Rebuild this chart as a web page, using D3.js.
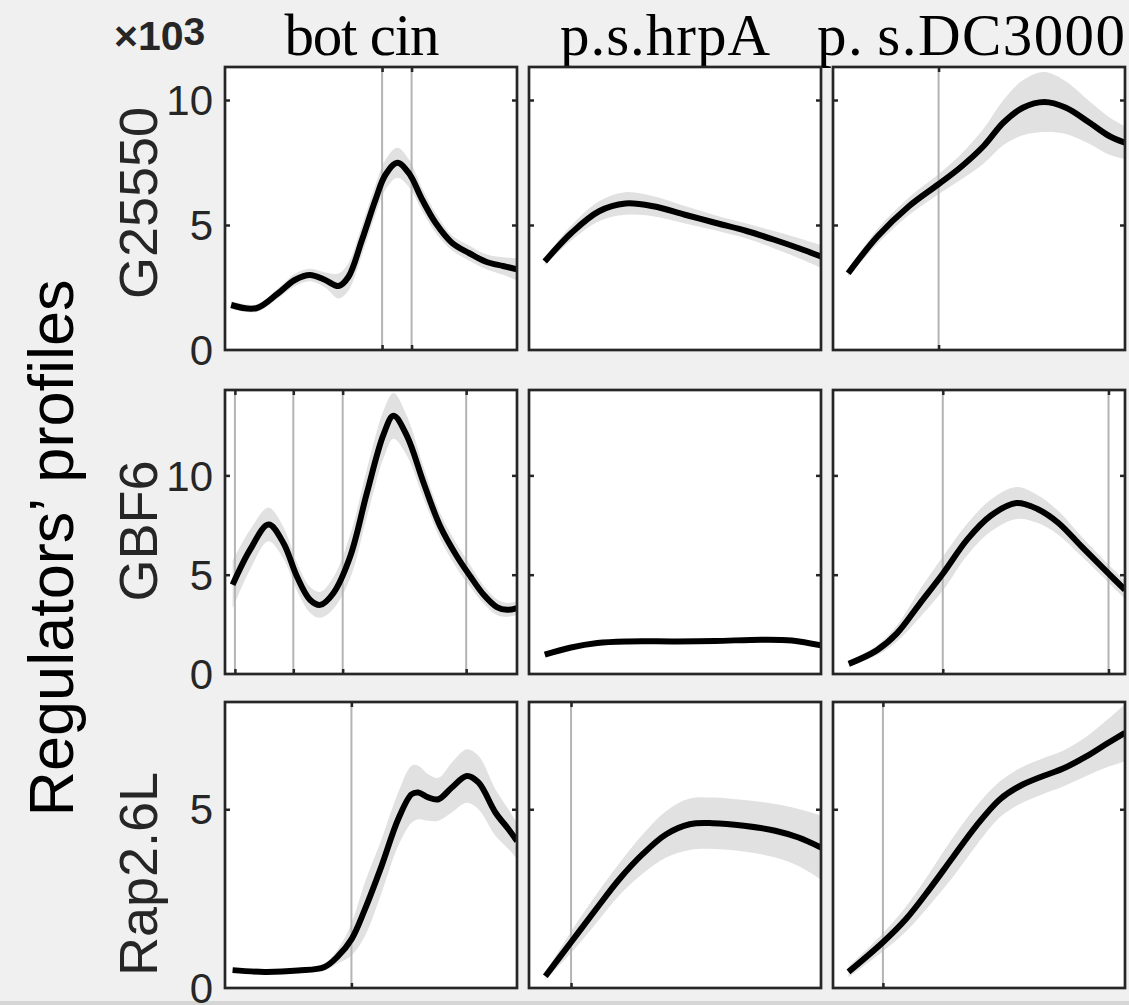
<!DOCTYPE html>
<html>
<head>
<meta charset="utf-8">
<script src="https://cdn.jsdelivr.net/npm/d3@7"></script>
<style>
  html, body { margin: 0; padding: 0; background: #f0f0f0; }
  svg { display: block; }
</style>
</head>
<body>
<svg id="chart" width="1129" height="1005"></svg>
<script>
// ---------------- DATA ----------------
const conditions = ["bot cin", "p.s.hrpA", "p.\u2009s.DC3000"];
const regulators = ["G25550", "GBF6", "Rap2.6L"];
const yMaxByRow = [11.32, 14.3, 8.0];
const yTicksByRow = [[0, 5, 10], [0, 5, 10], [0, 5]];
const yTickLabelsByRow = [["0", "5", "10"], ["0", "5", "10"], ["0", "5"]];
const scaleLabel = "×10";
const scaleExp = "3";
const yTitle = "Regulators’ profiles";

// G25550
const G25550_botcin_t    = [0.021,0.107,0.182,0.239,0.291,0.343,0.389,0.423,0.469,0.515,0.549,0.59,0.63,0.676,0.722,0.779,0.837,0.894,0.952,1.0];
const G25550_botcin_mean = [1.8,1.67,2.27,2.8,3.0,2.8,2.56,2.93,4.4,6.0,7.0,7.49,7.07,6.0,5.07,4.27,3.87,3.53,3.36,3.23];
const G25550_botcin_sd   = [0.15,0.15,0.2,0.25,0.25,0.3,0.5,0.55,0.6,0.6,0.6,0.6,0.55,0.45,0.4,0.3,0.3,0.3,0.35,0.45];
const G25550_botcin_grid = [0.538, 0.639];

const G25550_hrpA_t    = [0.054,0.145,0.24,0.33,0.426,0.534,0.64,0.748,0.84,0.922,1.0];
const G25550_hrpA_mean = [3.54,4.68,5.55,5.86,5.75,5.41,5.08,4.75,4.41,4.08,3.74];
const G25550_hrpA_sd   = [0.15,0.3,0.4,0.45,0.4,0.35,0.3,0.3,0.35,0.4,0.45];
const G25550_hrpA_grid = [];

const G25550_DC3000_t    = [0.052,0.153,0.26,0.36,0.435,0.516,0.583,0.65,0.724,0.798,0.879,0.946,1.0];
const G25550_DC3000_mean = [3.07,4.55,5.75,6.62,7.29,8.16,9.09,9.69,9.92,9.69,9.09,8.56,8.29];
const G25550_DC3000_sd   = [0.15,0.3,0.35,0.4,0.5,0.7,0.9,1.1,1.2,1.05,0.85,0.75,0.65];
const G25550_DC3000_grid = [0.3616];

// GBF6
const GBF6_botcin_t    = [0.026,0.086,0.149,0.2,0.246,0.291,0.326,0.371,0.429,0.486,0.543,0.577,0.623,0.68,0.737,0.794,0.84,0.886,0.931,0.966,1.0];
const GBF6_botcin_mean = [4.49,6.26,7.53,6.6,4.92,3.74,3.48,4.07,5.93,9.12,12.07,13.0,11.99,9.63,7.44,5.93,4.92,3.99,3.37,3.23,3.32];
const GBF6_botcin_sd   = [1.2,1.0,0.85,0.8,0.7,0.65,0.65,0.8,1.1,1.2,1.2,1.15,1.0,0.8,0.65,0.6,0.55,0.45,0.4,0.35,0.35];
const GBF6_botcin_grid = [0.034, 0.234, 0.403, 0.826];

const GBF6_hrpA_t    = [0.054,0.14,0.234,0.34,0.5,0.636,0.797,0.9,1.0];
const GBF6_hrpA_mean = [0.97,1.32,1.56,1.64,1.64,1.66,1.73,1.69,1.44];
const GBF6_hrpA_sd   = [0.05,0.06,0.08,0.08,0.08,0.1,0.12,0.12,0.12];
const GBF6_hrpA_grid = [];

const GBF6_DC3000_t    = [0.054,0.15,0.218,0.298,0.376,0.46,0.54,0.628,0.70,0.77,0.85,0.944,1.0];
const GBF6_DC3000_mean = [0.51,1.19,2.03,3.56,5.05,6.78,7.97,8.61,8.31,7.63,6.44,5.05,4.24];
const GBF6_DC3000_sd   = [0.15,0.25,0.4,0.7,0.85,0.8,0.8,0.8,0.7,0.6,0.5,0.45,0.45];
const GBF6_DC3000_grid = [0.376, 0.9435];

// Rap2.6L
const Rap26L_botcin_t    = [0.026,0.135,0.25,0.341,0.387,0.433,0.479,0.536,0.593,0.639,0.662,0.696,0.731,0.777,0.828,0.868,0.926,0.971,1.0];
const Rap26L_botcin_mean = [0.5,0.45,0.49,0.59,0.89,1.36,2.2,3.41,4.72,5.42,5.47,5.33,5.28,5.61,5.93,5.75,4.91,4.44,4.11];
const Rap26L_botcin_sd   = [0.05,0.05,0.05,0.1,0.2,0.45,0.75,0.75,0.75,0.8,0.75,0.65,0.6,0.7,0.75,0.75,0.65,0.55,0.5];
const Rap26L_botcin_grid = [0.433];

const Rap26L_hrpA_t    = [0.056,0.144,0.23,0.31,0.39,0.47,0.55,0.63,0.736,0.843,0.923,1.0];
const Rap26L_hrpA_mean = [0.33,1.28,2.21,3.05,3.75,4.3,4.58,4.61,4.54,4.4,4.21,3.93];
const Rap26L_hrpA_sd   = [0.1,0.3,0.4,0.45,0.55,0.65,0.72,0.72,0.72,0.75,0.8,0.9];
const Rap26L_hrpA_grid = [0.144];

const Rap26L_DC3000_t    = [0.053,0.171,0.25,0.33,0.41,0.49,0.572,0.64,0.72,0.786,0.866,0.933,1.0];
const Rap26L_DC3000_mean = [0.45,1.28,1.93,2.76,3.65,4.53,5.28,5.65,5.93,6.13,6.47,6.81,7.14];
const Rap26L_DC3000_sd   = [0.15,0.25,0.35,0.45,0.55,0.55,0.5,0.5,0.5,0.5,0.55,0.65,0.8];
const Rap26L_DC3000_grid = [0.171];

// table built from the arrays above
const panels = [
  [[G25550_botcin_t, G25550_botcin_mean, G25550_botcin_sd, G25550_botcin_grid],
   [G25550_hrpA_t, G25550_hrpA_mean, G25550_hrpA_sd, G25550_hrpA_grid],
   [G25550_DC3000_t, G25550_DC3000_mean, G25550_DC3000_sd, G25550_DC3000_grid]],
  [[GBF6_botcin_t, GBF6_botcin_mean, GBF6_botcin_sd, GBF6_botcin_grid],
   [GBF6_hrpA_t, GBF6_hrpA_mean, GBF6_hrpA_sd, GBF6_hrpA_grid],
   [GBF6_DC3000_t, GBF6_DC3000_mean, GBF6_DC3000_sd, GBF6_DC3000_grid]],
  [[Rap26L_botcin_t, Rap26L_botcin_mean, Rap26L_botcin_sd, Rap26L_botcin_grid],
   [Rap26L_hrpA_t, Rap26L_hrpA_mean, Rap26L_hrpA_sd, Rap26L_hrpA_grid],
   [Rap26L_DC3000_t, Rap26L_DC3000_mean, Rap26L_DC3000_sd, Rap26L_DC3000_grid]]
];

// ---------------- LAYOUT ----------------
const colLeft = [225, 529, 833];
const panelW = 292;
const rowTop = [67, 390, 702];
const rowBottom = [350, 674, 988];
const titleX = [362, 665, 971];
const titleW = [155, 210, 308];
const ylabelY = [203, 531, 874];

const svg = d3.select("#chart");
svg.append("rect").attr("width", 1129).attr("height", 1005).attr("fill", "#f0f0f0");
svg.append("rect").attr("x", 0).attr("y", 1001).attr("width", 1129).attr("height", 4).attr("fill", "#d6d6d6");

const sans = "'Liberation Sans', Arial, Helvetica, sans-serif";
const serif = "'Liberation Serif', 'Times New Roman', serif";
const axisColor = "#262626";

// column titles
svg.selectAll("text.coltitle").data(conditions).join("text")
  .attr("class", "coltitle")
  .attr("x", (d, i) => titleX[i]).attr("y", 55)
  .attr("text-anchor", "middle")
  .attr("textLength", (d, i) => titleW[i]).attr("lengthAdjust", "spacing")
  .attr("font-family", serif).attr("font-size", 59).attr("fill", "#000")
  .text(d => d);

// exponent label
const exp = svg.append("text").attr("x", 114).attr("y", 50)
  .attr("font-family", sans).attr("font-weight", "bold").attr("font-size", 41).attr("fill", axisColor);
exp.append("tspan").text(scaleLabel);
exp.append("tspan").attr("dy", -5).attr("font-size", 39).text(scaleExp);

// big y title
svg.append("text")
  .attr("transform", "translate(73,548) rotate(-90)")
  .attr("text-anchor", "middle")
  .attr("font-family", sans).attr("font-size", 63).attr("fill", "#000")
  .text(yTitle);

regulators.forEach((reg, r) => {
  const y = d3.scaleLinear().domain([0, yMaxByRow[r]]).range([rowBottom[r], rowTop[r]]);

  // row label
  svg.append("text")
    .attr("transform", `translate(157,${ylabelY[r]}) rotate(-90)`)
    .attr("text-anchor", "middle")
    .attr("font-family", sans).attr("font-size", 54).attr("fill", axisColor)
    .text(reg);

  conditions.forEach((cond, c) => {
    const [ts, means, sds, grid] = panels[r][c];
    const x = d3.scaleLinear().domain([0, 1]).range([colLeft[c], colLeft[c] + panelW]);
    const g = svg.append("g");
    const data = ts.map((t, i) => ({ t, m: means[i], s: sds[i] }));

    g.append("rect")
      .attr("x", x(0)).attr("y", y(yMaxByRow[r]))
      .attr("width", x(1) - x(0)).attr("height", y(0) - y(yMaxByRow[r]))
      .attr("fill", "#fff");

    const clipId = `clip-${r}-${c}`;
    g.append("clipPath").attr("id", clipId).append("rect")
      .attr("x", x(0)).attr("y", y(yMaxByRow[r]))
      .attr("width", x(1) - x(0)).attr("height", y(0) - y(yMaxByRow[r]));

    const inner = g.append("g").attr("clip-path", `url(#${clipId})`);

    // band
    inner.append("path").datum(data)
      .attr("d", d3.area().curve(d3.curveCatmullRom.alpha(0.5))
        .x(d => x(d.t)).y0(d => y(d.m - d.s)).y1(d => y(d.m + d.s)))
      .attr("fill", "#e1e1e1");

    // x grid lines
    inner.selectAll("line.grid").data(grid).join("line")
      .attr("x1", d => x(d)).attr("x2", d => x(d))
      .attr("y1", y(0)).attr("y2", y(yMaxByRow[r]))
      .attr("stroke", "#b4b4b4").attr("stroke-width", 2);

    // mean line
    inner.append("path").datum(data)
      .attr("d", d3.line().curve(d3.curveCatmullRom.alpha(0.5)).x(d => x(d.t)).y(d => y(d.m)))
      .attr("fill", "none").attr("stroke", "#000").attr("stroke-width", 6)
      .attr("stroke-linejoin", "round");

    // y ticks (inward, left and right)
    const yt = yTicksByRow[r].filter(v => v > 0);
    g.append("g").attr("transform", `translate(${x(0)},0)`)
      .call(d3.axisRight(y).tickValues(yt).tickSize(5).tickFormat(""))
      .call(s => s.select(".domain").remove())
      .call(s => s.selectAll("line").attr("stroke", axisColor).attr("stroke-width", 2.5));
    g.append("g").attr("transform", `translate(${x(1)},0)`)
      .call(d3.axisLeft(y).tickValues(yt).tickSize(5).tickFormat(""))
      .call(s => s.select(".domain").remove())
      .call(s => s.selectAll("line").attr("stroke", axisColor).attr("stroke-width", 2.5));
    // x ticks (inward, top and bottom)
    g.append("g").attr("transform", `translate(0,${y(0)})`)
      .call(d3.axisTop(x).tickValues(grid).tickSize(5).tickFormat(""))
      .call(s => s.select(".domain").remove())
      .call(s => s.selectAll("line").attr("stroke", axisColor).attr("stroke-width", 2.5));
    g.append("g").attr("transform", `translate(0,${y(yMaxByRow[r])})`)
      .call(d3.axisBottom(x).tickValues(grid).tickSize(5).tickFormat(""))
      .call(s => s.select(".domain").remove())
      .call(s => s.selectAll("line").attr("stroke", axisColor).attr("stroke-width", 2.5));

    // frame
    g.append("rect")
      .attr("x", x(0)).attr("y", y(yMaxByRow[r]))
      .attr("width", x(1) - x(0)).attr("height", y(0) - y(yMaxByRow[r]))
      .attr("fill", "none").attr("stroke", axisColor).attr("stroke-width", 2.7);

    // y tick labels on first column
    if (c === 0) {
      g.selectAll("text.ytl").data(yTicksByRow[r]).join("text")
        .attr("class", "ytl")
        .attr("x", x(0) - 12).attr("y", d => y(d))
        .attr("dy", "0.36em")
        .attr("text-anchor", "end")
        .attr("font-family", sans).attr("font-size", 42).attr("fill", axisColor)
        .text((d, i) => yTickLabelsByRow[r][i]);
    }
  });
});
</script>
</body>
</html>
